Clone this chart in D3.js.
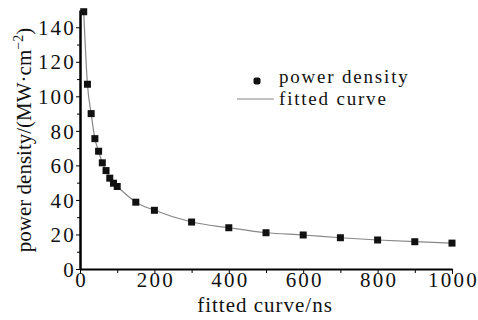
<!DOCTYPE html>
<html>
<head>
<meta charset="utf-8">
<script src="https://cdn.jsdelivr.net/npm/d3@7"></script>
<style>
body { margin: 0; background: #fff; }
</style>
</head>
<body>
<div id="chart"></div>
<script>
// pulse width (ns) and measured power density (MW/cm^2)
var pulseWidth = [10, 20, 30, 40, 50, 60, 70, 80, 90, 100, 150, 200, 300, 400, 500, 600, 700, 800, 900, 1000];
var powerDensity = [149, 107, 90, 75.5, 68.2, 61.5, 57, 52.6, 49.7, 47.8, 38.7, 34, 27.2, 23.9, 21, 19.7, 18.1, 16.8, 15.8, 15];
var xTicks = [0, 200, 400, 600, 800, 1000];
var yTicks = [0, 20, 40, 60, 80, 100, 120, 140];

var dataset = pulseWidth.map(function(d, i) { return {t: d, p: powerDensity[i]}; });

var FONT = "'Liberation Serif', 'DejaVu Serif', 'Times New Roman', serif";
var W = 478, H = 320;
var margin = {top: 10, right: 26, bottom: 51, left: 80},
w = W - margin.left - margin.right,
h = H - margin.top - margin.bottom;

var x = d3.scaleLinear().domain([0, 1000]).range([0, w]);
var y = d3.scaleLinear().domain([0, 150]).range([h, 0]);

var root = d3.select("#chart").append("svg")
    .attr("width", W)
    .attr("height", H);
var svg = root.append("g")
    .attr("transform", "translate(" + margin.left + "," + margin.top + ")");

// minor ticks
svg.append("g")
    .attr("transform", "translate(0," + h + ")")
    .call(d3.axisBottom(x).tickValues(d3.range(100, 1000, 200)).tickSize(4).tickFormat(""))
    .call(function(g) { g.select(".domain").remove(); });
svg.append("g")
    .call(d3.axisLeft(y).tickValues(d3.range(10, 150, 20)).tickSize(3).tickFormat(""))
    .call(function(g) { g.select(".domain").remove(); });

// x axis
var gx = svg.append("g")
    .attr("transform", "translate(0," + h + ")")
    .call(d3.axisBottom(x).tickValues(xTicks).tickFormat(d3.format("d")).tickSize(5).tickSizeOuter(0).tickPadding(0));
gx.selectAll("text")
    .style("font-size", "21px")
    .style("letter-spacing", "2.2px")
    .attr("dx", "1px")
    .attr("dy", "0.6em");
gx.select(".domain").attr("stroke-width", 2);

// y axis
var gy = svg.append("g")
    .call(d3.axisLeft(y).tickValues(yTicks).tickSize(4).tickSizeOuter(0).tickPadding(0));
gy.selectAll("text")
    .style("font-size", "21px")
    .style("letter-spacing", "2.2px")
    .attr("dy", "0.34em");
gy.select(".domain").attr("stroke-width", 2.5);

// axis labels
svg.append("text")
    .attr("x", w / 2 - 1)
    .attr("y", h + 43)
    .style("text-anchor", "middle")
    .style("font-size", "21px")
    .style("letter-spacing", "1px")
    .text("fitted curve/ns");

var yl = svg.append("text")
    .attr("transform", "rotate(-90)")
    .attr("x", -130)
    .attr("y", -49)
    .style("text-anchor", "middle")
    .style("font-size", "21px");
yl.append("tspan").text("power density/(MW·cm");
yl.append("tspan").attr("dy", -8).style("font-size", "14px").text("−2");
yl.append("tspan").attr("dy", 8).text(")");

// fitted curve
var line = d3.line()
    .x(function(d) { return x(d.t); })
    .y(function(d) { return y(d.p); })
    .curve(d3.curveMonotoneX);

svg.append("path")
    .datum(dataset)
    .attr("fill", "none")
    .attr("stroke", "#888")
    .attr("stroke-width", 1.2)
    .attr("d", line);

// points
svg.selectAll("rect.pt")
    .data(dataset)
    .enter().append("rect")
        .attr("class", "pt")
        .attr("x", function(d) { return x(d.t) - 3.5; })
        .attr("y", function(d) { return y(d.p) - 3.5; })
        .attr("width", 7)
        .attr("height", 7)
        .attr("fill", "#111");

// legend
var lg = root.append("g");
lg.append("rect")
    .attr("x", 253.5).attr("y", 77.5)
    .attr("width", 7).attr("height", 7)
    .attr("rx", 2)
    .attr("fill", "#111");
lg.append("text")
    .attr("x", 279)
    .attr("y", 83)
    .style("font-size", "19px")
    .style("letter-spacing", "1.8px")
    .text("power density");
lg.append("line")
    .attr("x1", 237).attr("x2", 274)
    .attr("y1", 99).attr("y2", 99)
    .attr("stroke", "#888").attr("stroke-width", 1.2);
lg.append("text")
    .attr("x", 279)
    .attr("y", 105)
    .style("font-size", "19px")
    .style("letter-spacing", "1.8px")
    .text("fitted curve");

// serif everywhere, like the original figure
root.selectAll("text")
    .style("font-family", FONT)
    .attr("fill", "#111");
</script>
</body>
</html>
